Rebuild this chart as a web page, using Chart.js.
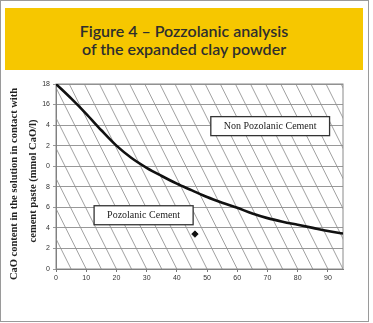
<!DOCTYPE html>
<html>
<head>
<meta charset="utf-8">
<script src="https://cdn.jsdelivr.net/npm/chart.js@4/dist/chart.umd.min.js"></script>
<style>
  html, body { margin: 0; padding: 0; background: #fff; }
  #wrap { position: relative; width: 373px; height: 323px; overflow: hidden; background: #fff; }
  #frame { position: absolute; left: 0px; top: 0px; width: 367px; height: 320px; border: 1.5px solid #9a9a9a; }
  #title { position: absolute; left: 5px; top: 8px; width: 358px; height: 62px; background: #F6C700;
           font-family: Lato, "Open Sans", sans-serif; font-weight: 600; font-size: 16px; color: #2e2e2e; text-align: center;
           line-height: 17.5px; box-sizing: border-box; padding-top: 14px; }
  #c { position: absolute; left: 0; top: 0; }
</style>
</head>
<body>
<div id="wrap">
  <div id="frame"></div>
  <div id="title">Figure 4 – Pozzolanic analysis<br>of the expanded clay powder</div>
  <canvas id="c" width="373" height="323"></canvas>
</div>
<script>
// ---- data ----
const curveX = [0, 5, 10, 15, 20, 25, 30, 35, 40, 45, 50, 55, 60, 65, 70, 75, 80, 85, 90, 95];
const curveY = [18, 16.6, 15.1, 13.5, 12.0, 10.8, 9.85, 9.05, 8.3, 7.65, 7.0, 6.45, 5.95, 5.4, 4.95, 4.6, 4.3, 4.0, 3.7, 3.45];
const pointX = [46];
const pointY = [3.4];
const xTickValues = [0, 10, 20, 30, 40, 50, 60, 70, 80, 90];
const yTickValues = [0, 2, 4, 6, 8, 10, 12, 14, 16, 18];
const yTickLabels = ['0', '2', '4', '6', '8', '0', '2', '4', '16', '18'];
const boxTexts = ['Non Pozolanic Cement', 'Pozolanic Cement'];
const boxX = [70.9, 29.0];
const boxY = [13.9, 5.23];
const yTitleLines = ['CaO content in the solution in contact with', 'cement paste (mmol CaO/l)'];
const hatchStep = 5;

const hatchPlugin = {
  id: 'hatch',
  beforeDatasetsDraw(chart) {
    const { ctx, chartArea: a, scales: { x } } = chart;
    ctx.save();
    ctx.beginPath();
    ctx.rect(a.left, a.top, a.right - a.left, a.bottom - a.top);
    ctx.clip();
    ctx.strokeStyle = '#909090';
    ctx.lineWidth = 0.85;
    const h = a.bottom - a.top;
    for (let k = -5; k <= 40; k++) {
      const px = x.getPixelForValue(k * hatchStep);
      ctx.beginPath();
      ctx.moveTo(px, a.bottom);
      ctx.lineTo(px - h * 0.5, a.top);
      ctx.stroke();
    }
    ctx.restore();
    ctx.save();
    ctx.strokeStyle = '#8a8a8a';
    ctx.lineWidth = 1;
    ctx.strokeRect(a.left, a.top, a.right - a.left, a.bottom - a.top);
    ctx.restore();
  },
  afterDraw(chart) {
    const { ctx, scales: { x, y } } = chart;
    ctx.save();
    ctx.font = '10px "Liberation Serif", serif';
    ctx.textAlign = 'center';
    ctx.textBaseline = 'middle';
    boxTexts.forEach((t, i) => {
      const cx = x.getPixelForValue(boxX[i]);
      const cy = y.getPixelForValue(boxY[i]);
      const w = ctx.measureText(t).width + 26;
      const hh = 19;
      ctx.fillStyle = '#fff';
      ctx.fillRect(cx - w / 2, cy - hh / 2, w, hh);
      ctx.strokeStyle = '#333';
      ctx.lineWidth = 1.3;
      ctx.strokeRect(cx - w / 2, cy - hh / 2, w, hh);
      ctx.fillStyle = '#222';
      ctx.fillText(t, cx, cy + 0.5);
    });
    ctx.restore();
    ctx.save();
    ctx.font = 'bold 10.5px "Liberation Serif", serif';
    ctx.fillStyle = '#222';
    ctx.textAlign = 'center';
    ctx.textBaseline = 'middle';
    const lx = [14, 33.5];
    const ly = [184, 181];
    yTitleLines.forEach((t, i) => {
      ctx.save();
      ctx.translate(lx[i], ly[i]);
      ctx.rotate(-Math.PI / 2);
      ctx.fillText(t, 0, 0);
      ctx.restore();
    });
    ctx.restore();
  }
};

new Chart(document.getElementById('c'), {
  type: 'line',
  data: {
    datasets: [
      {
        data: curveX.map((v, i) => ({ x: v, y: curveY[i] })),
        borderColor: '#111',
        borderWidth: 2.6,
        pointRadius: 0,
        cubicInterpolationMode: 'monotone',
        fill: false
      },
      {
        type: 'scatter',
        data: pointX.map((v, i) => ({ x: v, y: pointY[i] })),
        pointStyle: 'rectRot',
        pointRadius: 3.2,
        backgroundColor: '#111',
        borderColor: '#111',
        showLine: false
      }
    ]
  },
  options: {
    responsive: false,
    animation: false,
    devicePixelRatio: 1,
    layout: { padding: { left: 34, top: 84, right: 30, bottom: 40 } },
    plugins: { legend: { display: false }, tooltip: { enabled: false }, title: { display: false } },
    scales: {
      x: {
        type: 'linear', min: 0, max: 95,
        afterBuildTicks: s => { s.ticks = xTickValues.map(v => ({ value: v })); },
        afterFit: s => { s.height = 14; },
        grid: { display: true, drawOnChartArea: false, tickLength: 3, color: '#777' },
        border: { color: '#777', width: 1 },
        ticks: { font: { family: 'Liberation Sans', size: 7 }, color: '#333', padding: 2, maxRotation: 0 }
      },
      y: {
        type: 'linear', min: 0, max: 18,
        afterBuildTicks: s => { s.ticks = yTickValues.map(v => ({ value: v })); },
        afterFit: s => { s.width = 22; },
        grid: { color: '#999', lineWidth: 1, tickLength: 3 },
        border: { color: '#777', width: 1 },
        ticks: {
          font: { family: 'Liberation Sans', size: 7 }, color: '#333', padding: 3,
          callback: (v) => { const i = yTickValues.indexOf(v); return i >= 0 ? yTickLabels[i] : ''; }
        }
      }
    }
  },
  plugins: [hatchPlugin]
});
</script>
</body>
</html>
